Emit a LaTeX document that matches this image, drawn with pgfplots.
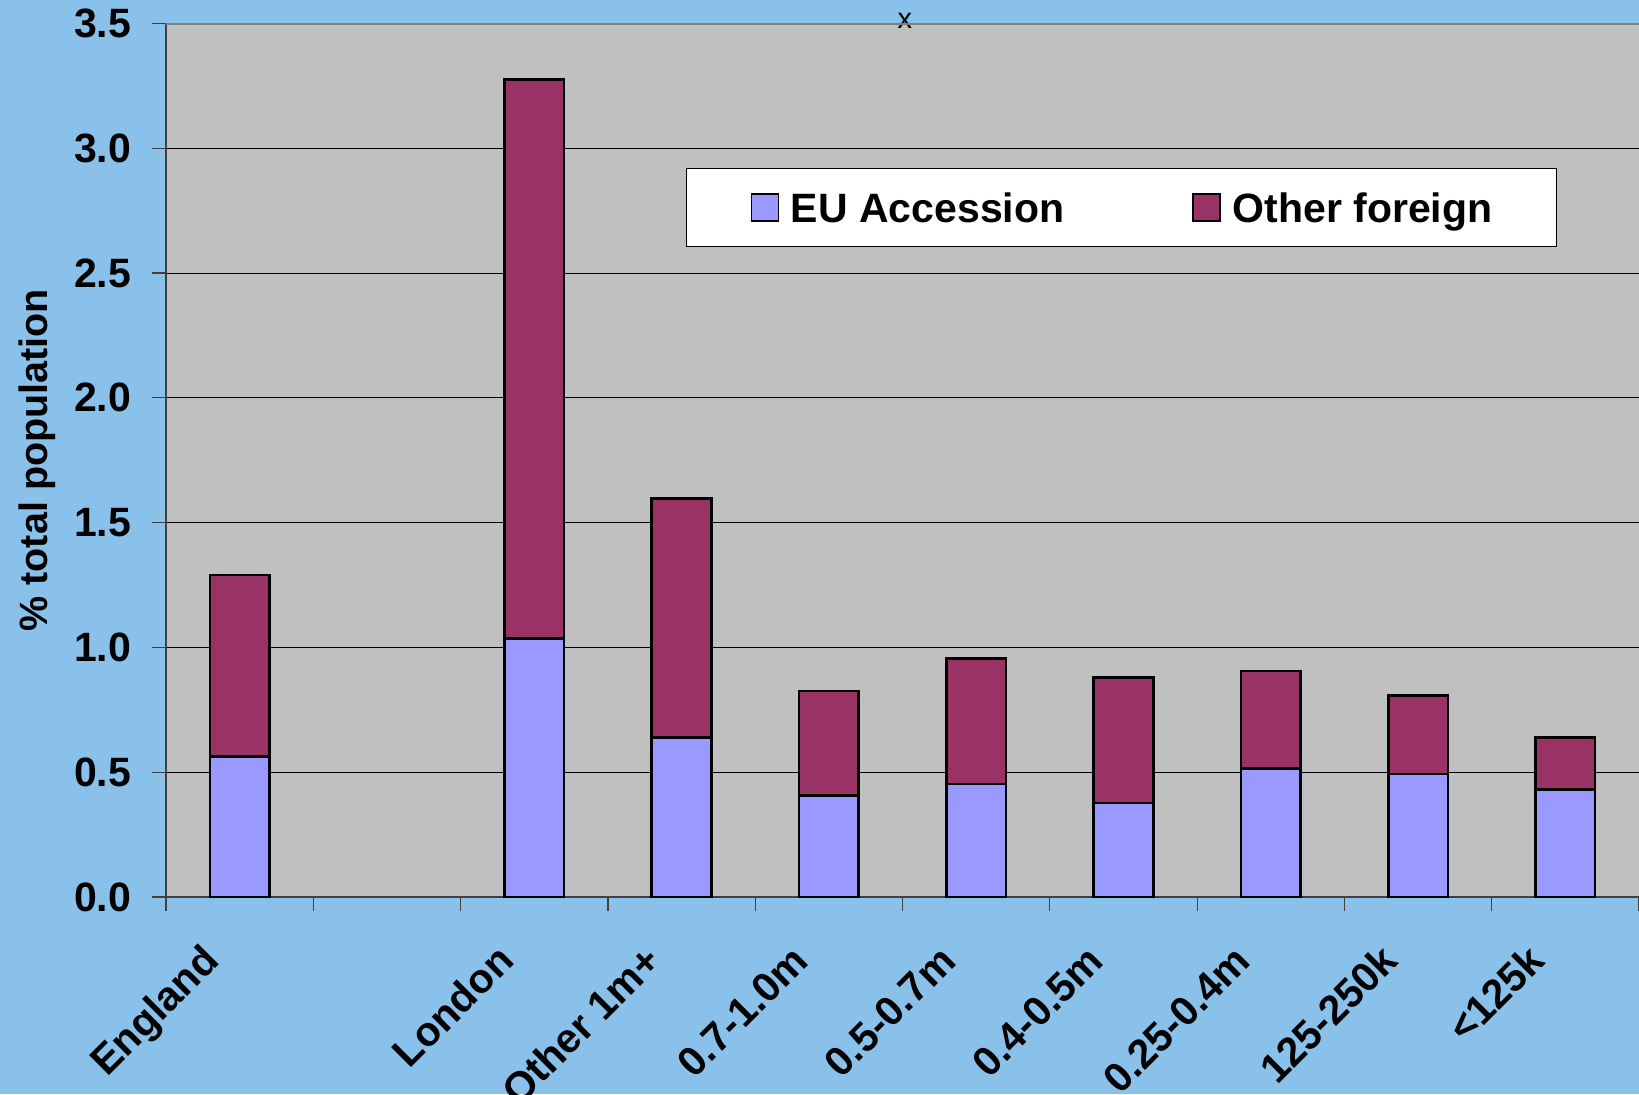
\documentclass[border=0pt]{standalone}
\usepackage{fontspec}
\setmainfont{Liberation Sans}
\usepackage{pgfplots}
\pgfplotsset{compat=1.18}
\usepackage{pgfplotstable}
\definecolor{bgblue}{RGB}{137,193,235}
\definecolor{plotgray}{RGB}{192,192,192}
\definecolor{euc}{RGB}{153,153,255}
\definecolor{othc}{RGB}{153,51,102}
\definecolor{bordergray}{RGB}{128,128,128}

\pgfplotstableread{
x eu other
0 0.562 0.728
2 1.035 2.241
3 0.640 0.956
4 0.407 0.418
5 0.453 0.503
6 0.377 0.503
7 0.516 0.389
8 0.493 0.314
9 0.430 0.210
}\data

\newcommand{\bigf}{\fontsize{19.75pt}{23pt}\selectfont\bfseries}
\newcommand{\tickf}{\fontsize{20.5pt}{24pt}\selectfont\bfseries}

\pgfplotsset{
  sqlegend/.style={legend image code/.code={\draw[##1,line width=0.7pt] (0pt,-6.75pt) rectangle (13.5pt,6.75pt);}}
}

\begin{document}
\begin{tikzpicture}
\fill[bgblue] (-83pt,-98.5pt) rectangle (736.5pt,448.5pt);
\begin{axis}[
  scale only axis, width=736.5pt, height=436.75pt,
  xmin=-0.5, xmax=9.5, ymin=0, ymax=3.5,
  ybar stacked, bar width=29.8pt,
  clip=false,
  axis background/.style={fill=plotgray},
  axis line style={draw=none},
  xtick={-0.5,0.5,...,9.5},
  x tick label as interval,
  xticklabels={England,,London,Other 1m+,0.7-1.0m,0.5-0.7m,0.4-0.5m,0.25-0.4m,125-250k,<125k},
  ytick={0,0.5,...,3.5},
  ymajorgrids, grid style={black, line width=0.5pt},
  tick align=outside, tick pos=left,
  major tick length=6.75pt,
  tick style={black!75, line width=0.6pt},
  /pgf/number format/assume math mode=true,
  tick label style={font=\tickf},
  yticklabel style={/pgf/number format/fixed, /pgf/number format/fixed zerofill, /pgf/number format/precision=1, anchor=east, inner sep=0pt, xshift=-10.5pt},
  xticklabel style={inner sep=0pt, xshift=-9pt, yshift=-26.25pt, rotate=45, anchor=base east},
  ylabel={\% total population},
  every axis y label/.style={at={(rel axis cs:0,0.5)}, xshift=-59pt, rotate=90, anchor=base, font=\bigf, inner sep=0pt},
  legend columns=2,
  legend style={at={(0.353,0.8346)}, anchor=north west, draw=black, line width=0.6pt, fill=white,
    inner xsep=32pt, inner ysep=12pt, font=\tickf,
    nodes={inner sep=0pt, text height=14.85pt, text depth=0.15pt},
    /tikz/every odd column/.append style={column sep=6pt},
    /tikz/every even column/.append style={column sep=64pt}},
]
\addplot[fill=euc, draw=black, line width=1.3pt, sqlegend] table[x=x, y=eu] {\data};
\addplot[fill=othc, draw=black, line width=1.3pt, sqlegend] table[x=x, y=other] {\data};
\legend{EU Accession, Other foreign}
\draw[bordergray, line width=1pt] (rel axis cs:0,1) -- (rel axis cs:1,1);
\draw[black!75, line width=0.6pt] (rel axis cs:0,0) -- (rel axis cs:0,1);
\draw[black!75, line width=0.6pt] (rel axis cs:0,0) -- (rel axis cs:1,0);
\node[font=\fontsize{14.5pt}{16pt}\selectfont, inner sep=0pt, yshift=1.5pt] at (rel axis cs:0.5017,1) {x};
\end{axis}
\pgfresetboundingbox
\useasboundingbox (-83pt,-98.5pt) rectangle (736.5pt,448.5pt);
\end{tikzpicture}
\end{document}
